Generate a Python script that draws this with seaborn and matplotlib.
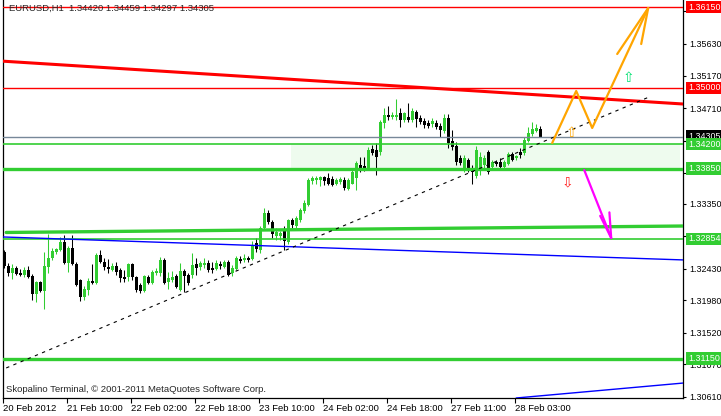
import matplotlib
matplotlib.use("Agg")
import matplotlib.pyplot as plt
import matplotlib.transforms as mtransforms
import pandas as pd
import seaborn as sns

# hourly EURUSD candles, 20 Feb 2012 -> 28 Feb 2012
opens = [1.3267, 1.3247, 1.3237, 1.3244, 1.3237, 1.3234, 1.3241, 1.3233, 1.3207, 1.3224,
         1.3211, 1.3245, 1.3258, 1.3267, 1.3270, 1.3281, 1.3251, 1.3272, 1.3250, 1.3227,
         1.3203, 1.3213, 1.3225, 1.3223, 1.3262, 1.3252, 1.3245, 1.3241, 1.3247, 1.3241,
         1.3231, 1.3231, 1.3250, 1.3231, 1.3220, 1.3211, 1.3231, 1.3223, 1.3237, 1.3237,
         1.3255, 1.3224, 1.3227, 1.3233, 1.3213, 1.3240, 1.3234, 1.3234, 1.3250, 1.3245,
         1.3248, 1.3251, 1.3244, 1.3242, 1.3250, 1.3245, 1.3252, 1.3237, 1.3242, 1.3257,
         1.3255, 1.3258, 1.3257, 1.3279, 1.3270, 1.3301, 1.3322, 1.3309, 1.3289, 1.3289,
         1.3299, 1.3281, 1.3312, 1.3304, 1.3312, 1.3325, 1.3334, 1.3368, 1.3369, 1.3369,
         1.3373, 1.3372, 1.3371, 1.3364, 1.3366, 1.3369, 1.3356, 1.3364, 1.3372, 1.3390,
         1.3389, 1.3386, 1.3413, 1.3412, 1.3409, 1.3450, 1.3462, 1.3459, 1.3459, 1.3464,
         1.3454, 1.3459, 1.3454, 1.3466, 1.3457, 1.3453, 1.3450, 1.3449, 1.3450, 1.3446,
         1.3439, 1.3457, 1.3424, 1.3417, 1.3400, 1.3386, 1.3398, 1.3386, 1.3375, 1.3383,
         1.3390, 1.3409, 1.3388, 1.3395, 1.3395, 1.3388, 1.3392, 1.3406, 1.3400, 1.3409,
         1.3407, 1.3425, 1.3435, 1.3439, 1.34420]
highs = [1.3270, 1.3251, 1.3250, 1.3247, 1.3242, 1.3245, 1.3247, 1.3235, 1.3225, 1.3225,
         1.3267, 1.3292, 1.3272, 1.3272, 1.3288, 1.3291, 1.3275, 1.3291, 1.3252, 1.3228,
         1.3218, 1.3230, 1.3250, 1.3265, 1.3270, 1.3258, 1.3257, 1.3251, 1.3252, 1.3244,
         1.3241, 1.3251, 1.3251, 1.3233, 1.3223, 1.3234, 1.3234, 1.3241, 1.3244, 1.3260,
         1.3258, 1.3238, 1.3240, 1.3235, 1.3251, 1.3242, 1.3237, 1.3265, 1.3258, 1.3254,
         1.3258, 1.3255, 1.3252, 1.3255, 1.3254, 1.3255, 1.3255, 1.3248, 1.3261, 1.3261,
         1.3264, 1.3261, 1.3282, 1.3287, 1.3304, 1.3329, 1.3326, 1.3312, 1.3301, 1.3297,
         1.3304, 1.3314, 1.3315, 1.3318, 1.3329, 1.3341, 1.3372, 1.3375, 1.3374, 1.3374,
         1.3375, 1.3379, 1.3374, 1.3372, 1.3373, 1.3373, 1.3372, 1.3386, 1.3396, 1.3402,
         1.3402, 1.3416, 1.3419, 1.3422, 1.3454, 1.3471, 1.3474, 1.3466, 1.3484, 1.3471,
         1.3466, 1.3478, 1.3471, 1.3469, 1.3462, 1.3457, 1.3454, 1.3457, 1.3454, 1.3450,
         1.3463, 1.3463, 1.3440, 1.3423, 1.3405, 1.3405, 1.3400, 1.3390, 1.3417, 1.3409,
         1.3405, 1.3412, 1.3398, 1.3398, 1.3400, 1.3398, 1.3409, 1.3409, 1.3405, 1.3415,
         1.3430, 1.3444, 1.3452, 1.3449, 1.34459]
lows = [1.3244, 1.3233, 1.3228, 1.3234, 1.3233, 1.3231, 1.3230, 1.3198, 1.3196, 1.3210,
        1.3186, 1.3237, 1.3255, 1.3264, 1.3268, 1.3250, 1.3238, 1.3248, 1.3218, 1.3197,
        1.3198, 1.3206, 1.3221, 1.3221, 1.3251, 1.3241, 1.3237, 1.3240, 1.3234, 1.3224,
        1.3224, 1.3225, 1.3227, 1.3210, 1.3208, 1.3210, 1.3221, 1.3221, 1.3234, 1.3233,
        1.3221, 1.3214, 1.3224, 1.3215, 1.3211, 1.3210, 1.3220, 1.3230, 1.3234, 1.3241,
        1.3244, 1.3238, 1.3237, 1.3241, 1.3242, 1.3244, 1.3233, 1.3233, 1.3241, 1.3251,
        1.3252, 1.3252, 1.3255, 1.3267, 1.3265, 1.3298, 1.3307, 1.3287, 1.3284, 1.3284,
        1.3270, 1.3278, 1.3301, 1.3301, 1.3309, 1.3322, 1.3332, 1.3364, 1.3364, 1.3360,
        1.3362, 1.3362, 1.3360, 1.3362, 1.3363, 1.3355, 1.3355, 1.3363, 1.3355, 1.3381,
        1.3382, 1.3383, 1.3405, 1.3376, 1.3405, 1.3443, 1.3454, 1.3456, 1.3454, 1.3444,
        1.3452, 1.3452, 1.3452, 1.3444, 1.3449, 1.3443, 1.3443, 1.3444, 1.3442, 1.3430,
        1.3436, 1.3415, 1.3412, 1.3390, 1.3390, 1.3381, 1.3381, 1.3363, 1.3372, 1.3376,
        1.3386, 1.3378, 1.3383, 1.3389, 1.3383, 1.3385, 1.3390, 1.3396, 1.3398, 1.3400,
        1.3405, 1.3423, 1.3432, 1.3437, 1.34297]
closes = [1.3247, 1.3237, 1.3244, 1.3235, 1.3234, 1.3241, 1.3231, 1.3207, 1.3224, 1.3211,
          1.3247, 1.3258, 1.3268, 1.3271, 1.3281, 1.3251, 1.3272, 1.3250, 1.3220, 1.3203,
          1.3214, 1.3225, 1.3223, 1.3262, 1.3252, 1.3245, 1.3242, 1.3247, 1.3238, 1.3230,
          1.3228, 1.3250, 1.3231, 1.3213, 1.3211, 1.3233, 1.3223, 1.3238, 1.3240, 1.3255,
          1.3223, 1.3230, 1.3231, 1.3217, 1.3240, 1.3233, 1.3223, 1.3248, 1.3244, 1.3251,
          1.3251, 1.3241, 1.3241, 1.3251, 1.3247, 1.3252, 1.3234, 1.3244, 1.3258, 1.3254,
          1.3258, 1.3255, 1.3277, 1.3271, 1.3301, 1.3322, 1.3309, 1.3292, 1.3295, 1.3294,
          1.3282, 1.3312, 1.3305, 1.3315, 1.3326, 1.3336, 1.3369, 1.3372, 1.3372, 1.3373,
          1.3368, 1.3364, 1.3362, 1.3369, 1.3371, 1.3358, 1.3369, 1.3381, 1.3393, 1.3383,
          1.3385, 1.3412, 1.3407, 1.3402, 1.3452, 1.3462, 1.3459, 1.3462, 1.3462, 1.3454,
          1.3465, 1.3454, 1.3467, 1.3456, 1.3452, 1.3447, 1.3446, 1.3453, 1.3444, 1.3440,
          1.3457, 1.3422, 1.3416, 1.3395, 1.3393, 1.3400, 1.3383, 1.3381, 1.3412, 1.3402,
          1.3400, 1.3381, 1.3395, 1.3392, 1.3388, 1.3395, 1.3406, 1.3398, 1.3403, 1.3405,
          1.3426, 1.3436, 1.3442, 1.3443, 1.34305]

time_ticks = [0, 16, 32, 48, 64, 80, 96, 112, 128]
time_labels = ["20 Feb 2012", "21 Feb 10:00", "22 Feb 02:00", "22 Feb 18:00", "23 Feb 10:00",
               "24 Feb 02:00", "24 Feb 18:00", "27 Feb 11:00", "28 Feb 03:00"]
price_ticks = [1.35630, 1.35170, 1.34710, 1.33350, 1.32430, 1.31980, 1.31520, 1.31070, 1.30610]
hidden_ticks = [1.36090, 1.34250, 1.33790, 1.32890]

# horizontal levels with their price boxes on the right
level_prices = [1.36150, 1.35000, 1.34305, 1.34200, 1.33850, 1.32854, 1.31150]
level_colors = ["#ff0000", "#ff0000", "#778899", "#32cd32", "#32cd32", "#32cd32", "#32cd32"]
level_widths = [1.0, 1.0, 1.0, 1.2, 2.4, 1.2, 2.4]
box_colors = ["#ff0000", "#ff0000", "#000000", "#32cd32", "#32cd32", "#32cd32", "#32cd32"]

# trend lines (bar index, price)
resist_x, resist_y = [-0.3, 170], [1.3538, 1.3477]
green_x, green_y = [0.5, 170], [1.32944, 1.33036]
blue_x, blue_y = [-0.3, 170], [1.32880, 1.32553]
blue2_x, blue2_y = [128, 170], [1.30590, 1.30804]
dash_x, dash_y = [0.5, 161.25], [1.31017, 1.34871]
zone_x, zone_y = [71.75, 169], [1.33850, 1.34200]

# forecast arrows
orange_x = [137, 143, 147, 161]
orange_y = [1.34217, 1.34956, 1.34430, 1.36136]
orange_head_x = [153.25, 161, 159.25]
orange_head_y = [1.35482, 1.36136, 1.35624]
magenta_x = [145, 151.75]
magenta_y = [1.33833, 1.32866]
magenta_head_x = [149.0, 151.75, 151.3]
magenta_head_y = [1.33180, 1.32866, 1.33230]

sns.set_style("white")
plt.rcParams['font.family'] = ['Liberation Sans', 'DejaVu Sans']

df = pd.DataFrame({'open': opens, 'high': highs, 'low': lows, 'close': closes})
df['bar'] = range(len(df))
df['up'] = df['close'] >= df['open']
colors = ['#32cd32' if u else '#000000' for u in df['up']]

fig = plt.figure(figsize=(7.21, 4.16), dpi=100)
ax = fig.add_axes([3 / 721, 18 / 416, 680 / 721, 398 / 416])

# support zone rectangle
ax.fill_between(zone_x, zone_y[0], zone_y[1], color='#eefbee', lw=0, zorder=0)

# candles
ax.vlines(df['bar'], df['low'], df['high'], colors=colors, lw=0.75, zorder=2)
body = (df['close'] - df['open']).abs().clip(lower=0.00012)
bottom = df[['open', 'close']].min(axis=1)
ax.bar(df['bar'], body, bottom=bottom, width=0.72, color=colors, lw=0, zorder=3)

for p, c, w in zip(level_prices, level_colors, level_widths):
    ax.axhline(p, color=c, lw=w, zorder=4)

sns.lineplot(x=resist_x, y=resist_y, ax=ax, color='#ff0000', lw=2.2, zorder=4)
sns.lineplot(x=green_x, y=green_y, ax=ax, color='#32cd32', lw=2.4, zorder=4)
sns.lineplot(x=blue_x, y=blue_y, ax=ax, color='#0000ff', lw=1.0, zorder=4)
sns.lineplot(x=blue2_x, y=blue2_y, ax=ax, color='#0000ff', lw=1.0, zorder=4)
ax.plot(dash_x, dash_y, color='black', lw=0.8, ls=(0, (3, 4)), zorder=5)

ax.plot(orange_x, orange_y, color='#ffa500', lw=1.6, zorder=6)
ax.plot(orange_head_x, orange_head_y, color='#ffa500', lw=1.6, zorder=6)
ax.plot(magenta_x, magenta_y, color='#ff00ff', lw=1.6, zorder=6)
ax.plot(magenta_head_x, magenta_head_y, color='#ff00ff', lw=1.6, zorder=6)

ax.text(141.75, 1.3436, "⇧", color='#ffa500', fontsize=10, ha='center', va='center',
        family='DejaVu Sans', zorder=7)
ax.text(156, 1.3514, "⇧", color='#00e070', fontsize=10, ha='center', va='center',
        family='DejaVu Sans', zorder=7)
ax.text(140.75, 1.3366, "⇩", color='#ff2020', fontsize=10, ha='center', va='center',
        family='DejaVu Sans', zorder=7)

ax.set_xlim(-0.3, 169.7)
ax.set_ylim(1.3059, 1.3625)

ax.set_xticks([t - 0.3 for t in time_ticks])
ax.set_xticklabels(time_labels)
off = mtransforms.ScaledTranslation(2 / 100, 0, fig.dpi_scale_trans)
for lbl in ax.get_xticklabels():
    lbl.set_ha('left')
    lbl.set_transform(lbl.get_transform() + off)

ax.yaxis.tick_right()
ax.set_yticks(price_ticks)
ax.set_yticks(hidden_ticks, minor=True)
ax.set_yticklabels([f"{p:.5f}" for p in price_ticks])
ax.tick_params(axis='x', bottom=True, direction='out', length=3.5, width=0.8, pad=1,
               labelsize=6.8, colors='black')
ax.tick_params(axis='y', which='both', right=True, left=False, direction='out', length=2.5,
               width=0.8, pad=2, labelsize=6.4, colors='black')

ax.spines['top'].set_visible(False)
for s in ['left', 'right', 'bottom']:
    ax.spines[s].set_color('black')
    ax.spines[s].set_linewidth(0.9)

# price boxes on the right axis
tr = mtransforms.blended_transform_factory(ax.transAxes, ax.transData)
for p, c in zip(level_prices, box_colors):
    ax.text(1 + 5 / 680, p, f"{p:.5f}", transform=tr, color='white', fontsize=6.4,
            ha='left', va='center', clip_on=False, zorder=10,
            bbox=dict(boxstyle='square,pad=0.2', fc=c, ec='none'))

ax.text(6 / 680, 1 - 8 / 398, "EURUSD,H1  1.34420 1.34459 1.34297 1.34305",
        transform=ax.transAxes, fontsize=6.8, va='center', ha='left', zorder=10)
ax.text(3 / 680, 8 / 398, "Skopalino Terminal, © 2001-2011 MetaQuotes Software Corp.",
        transform=ax.transAxes, fontsize=6.8, va='center', ha='left', zorder=10)

fig.savefig("out.png", dpi=100)
